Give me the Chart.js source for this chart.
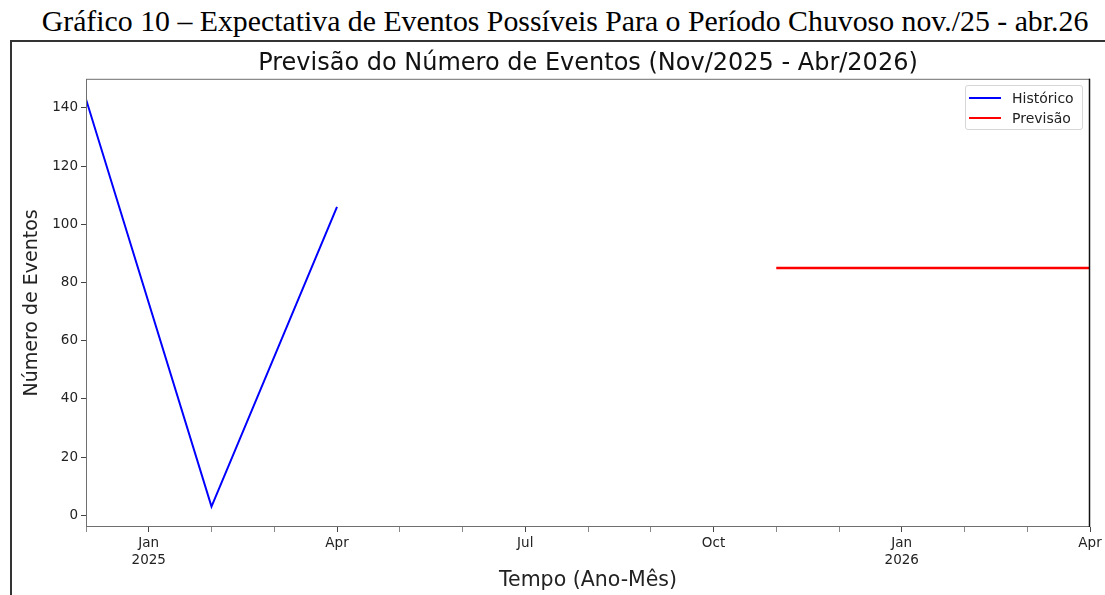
<!DOCTYPE html>
<html>
<head>
<meta charset="utf-8">
<script src="https://cdn.jsdelivr.net/npm/chart.js@4.4.0/dist/chart.umd.min.js"></script>
<style>
  body { margin: 0; background: #fff; width: 1105px; height: 595px; overflow: hidden; position: relative; font-family: "DejaVu Sans", sans-serif; }
  #caption { position: absolute; left: 0; top: 4px; width: 1130px; text-align: center; font-family: "Liberation Serif", "Times New Roman", serif; font-size: 29.8px; line-height: 34px; color: #000; white-space: nowrap; }
  #frame { position: absolute; left: 10px; top: 40px; width: 1110px; height: 580px; border-left: 2px solid #333; border-top: 2px solid #333; }
  #chart { position: absolute; left: 12px; top: 42px; }
  #legend { position: absolute; left: 965px; top: 85px; width: 118px; height: 45px; border: 1px solid #d6d6d6; border-radius: 3px; background: rgba(255,255,255,0.85); padding-top: 2px; box-sizing: border-box; }
  #legend .row { height: 20px; display: flex; align-items: center; font-size: 14px; color: #222; }
  #legend .swatch { width: 32px; height: 0; margin-left: 3px; margin-right: 11px; border-top-style: solid; }
</style>
</head>
<body>
<div id="caption">Gráfico 10 – Expectativa de Eventos Possíveis Para o Período Chuvoso nov./25 - abr.26</div>
<div id="frame"></div>
<canvas id="chart" width="1093" height="553"></canvas>
<div id="legend"></div>
<script>
// months on the x axis, Dec/2024 .. Apr/2026
const months = ['2024-12', '2025-01', '2025-02', '2025-03', '2025-04', '2025-05', '2025-06', '2025-07', '2025-08',
  '2025-09', '2025-10', '2025-11', '2025-12', '2026-01', '2026-02', '2026-03', '2026-04'];
const monthTickLabels = ['', ['Jan', '2025'], '', '', 'Apr', '', '', 'Jul', '', '', 'Oct', '', '', ['Jan', '2026'], '', '', 'Apr'];

const histMonths = ['2024-12', '2025-02', '2025-04'];
const histValues = [143, 3, 106];

const prevMonths = ['2025-11', '2025-12', '2026-01', '2026-02', '2026-03', '2026-04'];
const prevValues = [85, 85, 85, 85, 85, 85];

const yTicks = [0, 20, 40, 60, 80, 100, 120, 140];

const toPoints = (ms, vs) => ms.map((m, i) => ({ x: months.indexOf(m), y: vs[i] }));

// plot frame (matplotlib spines)
const spines = {
  id: 'spines',
  afterDatasetsDraw(chart) {
    const { ctx, chartArea: a } = chart;
    ctx.save();
    ctx.strokeStyle = '#6f6f6f';
    ctx.lineWidth = 1;
    ctx.strokeRect(a.left + 0.5, a.top + 0.5, a.right - a.left - 1, a.bottom - a.top - 1);
    ctx.strokeStyle = '#111';
    ctx.lineWidth = 1.5;
    ctx.beginPath();
    ctx.moveTo(a.right - 0.5, a.top);
    ctx.lineTo(a.right - 0.5, a.bottom);
    ctx.stroke();
    ctx.restore();
  }
};

const tickFont = { family: 'DejaVu Sans', size: 13.5, lineHeight: 1.25 };

const chart = new Chart(document.getElementById('chart'), {
  type: 'line',
  data: {
    datasets: [
      {
        label: 'Histórico',
        data: toPoints(histMonths, histValues),
        borderColor: '#0000ff',
        borderWidth: 2,
        pointRadius: 0,
        tension: 0,
        fill: false,
      },
      {
        label: 'Previsão',
        data: toPoints(prevMonths, prevValues),
        borderColor: '#ff0000',
        borderWidth: 2.6,
        pointRadius: 0,
        tension: 0,
        fill: false,
      }
    ]
  },
  options: {
    responsive: false,
    animation: false,
    layout: { padding: { right: 15, left: 0, top: 0, bottom: 0 } },
    plugins: {
      legend: { display: false },
      tooltip: { enabled: false },
      title: {
        display: true,
        fullSize: false,
        text: 'Previsão do Número de Eventos (Nov/2025 - Abr/2026)',
        color: '#111',
        font: { family: 'DejaVu Sans', size: 24, weight: 'normal', lineHeight: 1.2 },
        padding: { top: 7, bottom: 1 }
      }
    },
    scales: {
      x: {
        type: 'linear',
        min: 0,
        max: months.length - 1,
        afterBuildTicks: s => { s.ticks = months.map((m, i) => ({ value: i })); },
        afterFit: s => { s.height = 68; },
        grid: {
          drawOnChartArea: false,
          tickLength: 5,
          tickColor: c => monthTickLabels[c.index] ? '#444' : '#888',
          tickWidth: 1
        },
        border: { display: false },
        ticks: {
          autoSkip: false,
          maxRotation: 0,
          padding: 3,
          color: '#222',
          font: tickFont,
          callback: v => monthTickLabels[v]
        },
        title: {
          display: true,
          text: 'Tempo (Ano-Mês)',
          color: '#222',
          font: { family: 'DejaVu Sans', size: 20.5 },
          padding: { top: 0, bottom: 2 }
        }
      },
      y: {
        min: -4,
        max: 150,
        afterBuildTicks: s => { s.ticks = yTicks.map(v => ({ value: v })); },
        afterFit: s => { s.width = 74; },
        grid: { drawOnChartArea: false, tickLength: 5, tickColor: '#444' },
        border: { display: false },
        ticks: { padding: 3, color: '#222', font: tickFont },
        title: {
          display: true,
          text: 'Número de Eventos',
          color: '#222',
          font: { family: 'DejaVu Sans', size: 19 },
          padding: { top: 9, bottom: 0 }
        }
      }
    }
  },
  plugins: [spines]
});

// legend box inside the axes, built from the datasets
document.getElementById('legend').innerHTML = chart.data.datasets.map(d => `
  <div class="row"><span class="swatch" style="border-top-color:${d.borderColor};border-top-width:${d.borderWidth}px"></span>${d.label}</div>
`).join('');
</script>
</body>
</html>
